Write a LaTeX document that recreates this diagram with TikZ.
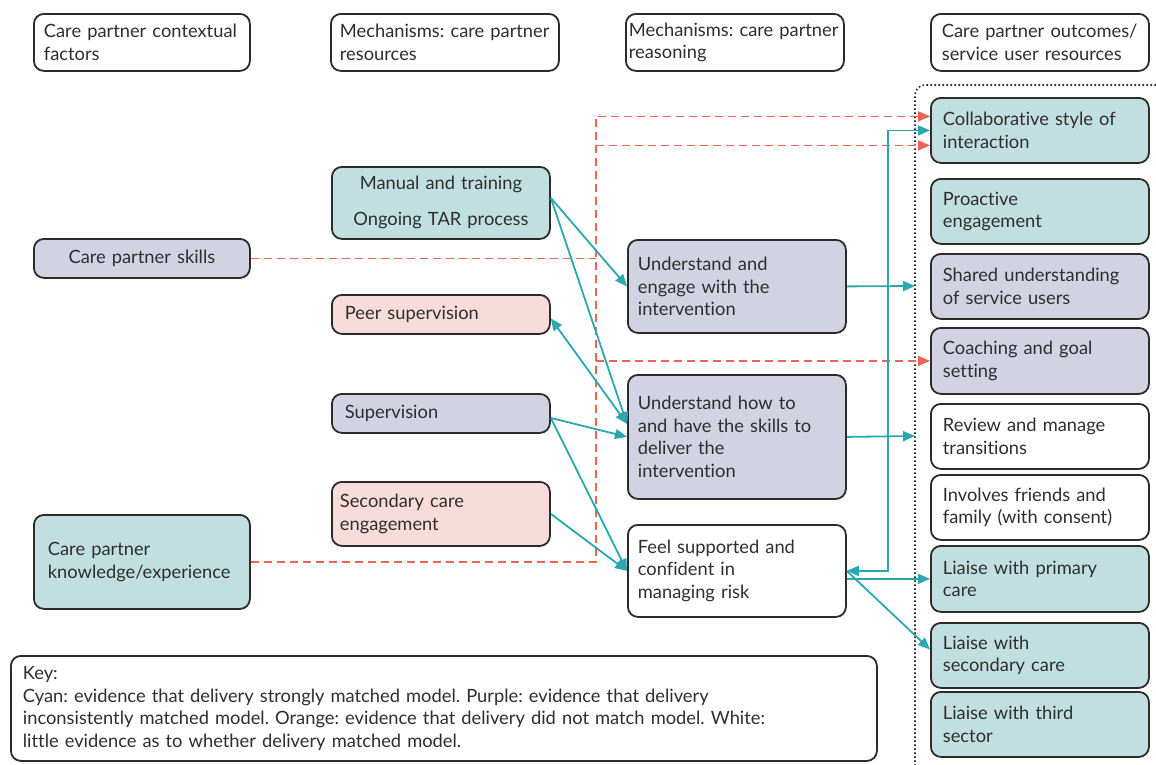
\documentclass[tikz,border=0pt]{standalone}
\usepackage{fontspec}
\setmainfont{Lato}[Ligatures=NoCommon]
\usetikzlibrary{arrows.meta,calc}
\definecolor{bordc}{HTML}{2B2B2B}
\definecolor{txtc}{HTML}{2E2E2E}
\definecolor{cyanf}{HTML}{C1DFE1}
\definecolor{purpf}{HTML}{D1D2E2}
\definecolor{pinkf}{HTML}{F7DCDA}
\definecolor{tealc}{HTML}{2BA8AE}
\definecolor{orc}{HTML}{EE6352}
\frenchspacing
\begin{document}
\begin{tikzpicture}[x=1pt,y=-1pt,
  font=\fontsize{18.3}{22.5}\selectfont, text=txtc,
  bx/.style={draw=bordc, line width=1.8pt, rounded corners=10pt, anchor=north west,
             align=left, inner ysep=0pt},
  colone/.style={bx, minimum width=216pt},
  coltwo/.style={bx, minimum width=218pt, inner xsep=13pt, text width=192pt},
  colthree/.style={bx, minimum width=218pt, inner xsep=10pt, text width=198pt},
  colfour/.style={bx, minimum width=218pt, minimum height=65pt, inner xsep=12pt, text width=194pt},
  head/.style={bx, minimum height=57pt},
  tealarr/.style={draw=tealc, line width=1.8pt, -{Triangle[length=12pt,width=10pt]}},
  tealboth/.style={draw=tealc, line width=1.8pt, {Triangle[length=12pt,width=10pt]}-{Triangle[length=12pt,width=10pt]}},
  orline/.style={draw=orc, line width=1.8pt, dash pattern=on 8pt off 5pt},
  orarr/.style={orline, -{Triangle[length=12pt,width=10pt]}},
  dotbox/.style={draw=bordc, line width=1.6pt, dash pattern=on 1.6pt off 2.4pt, rounded corners=10pt}
]
\useasboundingbox (0,0) rectangle (1156,764);
\fill[white] (0,0) rectangle (1156,764);

% column headings
\node[head, minimum width=216pt, inner xsep=10pt, text width=196pt] (h1) at (33,13) {Care partner contextual\\factors};
\node[head, minimum width=228pt, inner xsep=9pt, text width=210pt] (h2) at (330,13) {Mechanisms: care partner\\resources};
\node[head, minimum width=218pt, inner xsep=3pt, text width=212pt] (h3) at (625,13) {Mechanisms: care partner\\reasoning};
\node[head, minimum width=218pt, inner xsep=11pt, text width=196pt] (h4) at (930,13) {Care partner outcomes/\\service user resources};

% outcome group outline
\draw[dotbox] (1160,85) -| (915,770);

% contextual factors
\node[colone, fill=purpf, minimum height=39pt, align=center, text width=196pt, inner xsep=10pt] (skills) at (33,238) {Care partner skills};
\node[colone, fill=cyanf, minimum height=94pt, inner xsep=14pt, text width=188pt] (know) at (33,514) {Care partner\\knowledge/experience};

% resources
\node[coltwo, fill=cyanf, minimum height=72pt, align=center] (manual) at (331,166) {Manual and training\\[13.5pt]Ongoing TAR process};
\node[coltwo, fill=pinkf, minimum height=39pt] (peer) at (331,294) {Peer supervision};
\node[coltwo, fill=purpf, minimum height=39pt] (sup) at (331,393) {Supervision};
\node[coltwo, fill=pinkf, minimum height=64pt, inner xsep=8pt, text width=202pt] (sec) at (331,481) {Secondary care\\engagement};

% reasoning
\node[colthree, fill=purpf, minimum height=93pt] (und1) at (627,239) {Understand and\\engage with the\\intervention};
\node[colthree, fill=purpf, minimum height=124pt] (und2) at (627,374) {Understand how to\\and have the skills to\\deliver the\\intervention};
\node[colthree, fill=white, minimum height=92pt] (feel) at (627,524) {Feel supported and\\confident in\\managing risk};

% outcomes
\node[colfour, fill=cyanf] (collab) at (930,97) {Collaborative style of\\interaction};
\node[colfour, fill=cyanf] (proact) at (930,178) {Proactive\\engagement};
\node[colfour, fill=purpf] (shared) at (930,253) {Shared understanding\\of service users};
\node[colfour, fill=purpf, minimum height=66pt] (coach) at (930,327) {Coaching and goal\\setting};
\node[colfour, fill=white] (review) at (930,403) {Review and manage\\transitions};
\node[colfour, fill=white] (involve) at (930,474) {Involves friends and\\family (with consent)};
\node[colfour, fill=cyanf, minimum height=66pt] (lprim) at (930,545) {Liaise with primary\\care};
\node[colfour, fill=cyanf] (lsec) at (930,622) {Liaise with\\secondary care};
\node[colfour, fill=cyanf] (lthird) at (930,691) {Liaise with third\\sector};

% key
\node[bx, minimum width=866pt, minimum height=105pt, inner xsep=12pt, text width=842pt] (key) at (10,655)
  {Key:\\Cyan: evidence that delivery strongly matched model. Purple: evidence that delivery\\inconsistently matched model. Orange: evidence that delivery did not match model. White:\\little evidence as to whether delivery matched model.};

% entry points on the outcome boxes
\coordinate (cin1) at ([yshift=14pt]collab.west);
\coordinate (cin2) at ([yshift=-15pt]collab.west);
\coordinate (und2in) at ([yshift=13pt]und2.west);
\coordinate (mout) at ([yshift=5pt]manual.east);
\coordinate (pout) at ([yshift=-4pt]peer.east);
\coordinate (sout) at ([yshift=-4.5pt]sup.east);
\coordinate (lsecin) at ([yshift=6pt]lsec.west);

% orange links through the shared bus
\coordinate (bus) at (596,0);
\coordinate (d1) at (915,286);
\coordinate (d2) at (915,436);
\draw[orline] (skills.east) -- (bus |- skills.east);
\draw[orarr] (know.east) -- (bus |- know.east) -- (bus |- cin1) -- (cin1);
\draw[orarr] (bus |- cin2) -- (cin2);
\draw[orarr] (bus |- coach.west) -- (coach.west);

% teal links
\draw[tealarr] (mout) -- (und1.west);
\draw[tealarr] (mout) -- (und2in);
\draw[tealboth] (pout) -- (und2in);
\draw[tealarr] (sout) -- (und2.west);
\draw[tealarr] (sout) -- (feel.west);
\draw[tealarr] (sec.east) -- (feel.west);
\draw[tealarr] (und1.east) -- (d1);
\draw[tealarr] (und2.east) -- (d2);
\coordinate (vb) at (888,0);
\draw[tealboth] (feel.east) -| (vb |- collab.west) -- (collab.west);
\draw[tealarr] (feel.east |- lprim.west) -- (lprim.west);
\draw[tealarr] (feel.east) -- (lsecin);
\end{tikzpicture}
\end{document}
